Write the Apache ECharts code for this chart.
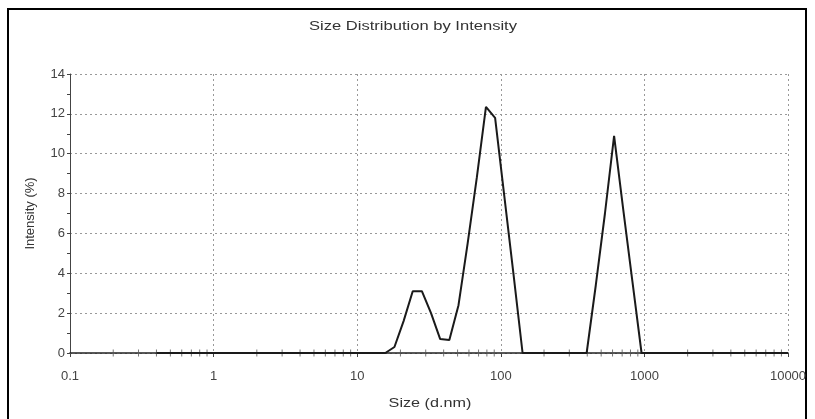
<!DOCTYPE html>
<html>
<head>
<meta charset="utf-8">
<script src="https://cdn.jsdelivr.net/npm/echarts@6/dist/echarts.min.js"></script>
<style>
	html, body { margin: 0; padding: 0; background: #fff; }
	#chart { width: 815px; height: 419px; }
</style>
</head>
<body>
<div id="chart"></div>
<script>
// size classes (d.nm) and intensity (%)
var sizes = [0.4, 0.4632, 0.5365, 0.6213, 0.7195, 0.8332, 0.9649, 1.117, 1.294, 1.499,
	1.736, 2.010, 2.328, 2.696, 3.122, 3.615, 4.187, 4.849, 5.615, 6.503,
	7.531, 8.721, 10.10, 11.70, 13.54, 15.69, 18.17, 21.04, 24.36, 28.21,
	32.67, 37.84, 43.82, 50.75, 58.77, 68.06, 78.82, 91.28, 105.7, 122.4,
	141.8, 164.2, 190.1, 220.2, 255.0, 295.3, 342.0, 396.1, 458.7, 531.2,
	615.1, 712.4, 825.0, 955.4, 1106, 1281, 1484, 1718, 1990, 2305,
	2669, 3091, 3580, 4145, 4801, 5560, 6439, 7456, 8635, 10000];
var intensity = [0, 0, 0, 0, 0, 0, 0, 0, 0, 0,
	0, 0, 0, 0, 0, 0, 0, 0, 0, 0,
	0, 0, 0, 0, 0, 0, 0.3, 1.6, 3.1, 3.1,
	2.0, 0.7, 0.65, 2.4, 5.5, 8.8, 12.35, 11.8, 7.9, 4.0,
	0, 0, 0, 0, 0, 0, 0, 0, 3.4, 7.0,
	10.9, 7.2, 3.6, 0, 0, 0, 0, 0, 0, 0,
	0, 0, 0, 0, 0, 0, 0, 0, 0, 0];
// minor tick positions on the log axis
var minorTicks = [0.2, 0.3, 0.4, 0.5, 0.6, 0.7, 0.8, 0.9,
	2, 3, 4, 5, 6, 7, 8, 9,
	20, 30, 40, 50, 60, 70, 80, 90,
	200, 300, 400, 500, 600, 700, 800, 900,
	2000, 3000, 4000, 5000, 6000, 7000, 8000, 9000];

var chart = echarts.init(document.getElementById('chart'));

var lineData = sizes.map(function(s, i) { return [s, intensity[i]]; });
var tickData = minorTicks.map(function(s) { return [s, 0]; });

var font = 'Liberation Sans';
var option = {
	backgroundColor: '#fff',
	animation: false,
	graphic: [{
		type: 'rect',
		shape: { x: 8, y: 9, width: 798, height: 430 },
		style: { fill: 'none', stroke: '#000', lineWidth: 2 },
		silent: true
	}, {
		// title, stretched wide like the original
		type: 'text',
		x: 413, y: 27,
		scaleX: 1.38,
		style: {
			text: 'Size Distribution by Intensity',
			fontFamily: font, fontSize: 12, fill: '#333',
			align: 'center', verticalAlign: 'middle'
		},
		silent: true
	}, {
		type: 'text',
		x: 430, y: 404,
		scaleX: 1.35,
		style: {
			text: 'Size (d.nm)',
			fontFamily: font, fontSize: 12, fill: '#333',
			align: 'center', verticalAlign: 'middle'
		},
		silent: true
	}],
	grid: { left: 70, right: 27, top: 74, bottom: 66 },
	xAxis: {
		type: 'log',
		logBase: 10,
		min: 0.1,
		max: 10000,
		axisLine: { lineStyle: { color: '#222', width: 1.5 } },
		axisTick: { show: true, length: 4, lineStyle: { color: '#444' } },
		axisLabel: {
			fontFamily: font, fontSize: 13, color: '#444', margin: 17,
			formatter: function(v) { return String(+v.toPrecision(4)); }
		},
		splitLine: { show: true, lineStyle: { color: '#999', type: [2, 3], width: 1 } }
	},
	yAxis: {
		type: 'value',
		min: 0,
		max: 14,
		interval: 2,
		name: 'Intensity (%)',
		nameLocation: 'middle',
		nameGap: 33,
		nameTextStyle: { fontFamily: font, fontSize: 13, color: '#333' },
		axisLine: { show: true, lineStyle: { color: '#444', width: 1 } },
		axisTick: { show: true, length: 3, lineStyle: { color: '#444' } },
		minorTick: { show: true, splitNumber: 2, length: 3, lineStyle: { color: '#444' } },
		axisLabel: { fontFamily: font, fontSize: 13, color: '#444', margin: 5 },
		splitLine: { show: true, lineStyle: { color: '#999', type: [2, 3], width: 1 } }
	},
	series: [{
		type: 'scatter',
		data: tickData,
		symbol: 'rect',
		symbolSize: [1, 7],
		itemStyle: { color: '#555' },
		silent: true,
		z: 1
	}, {
		type: 'line',
		data: lineData,
		showSymbol: false,
		smooth: false,
		lineStyle: { color: '#1a1a1a', width: 2 },
		z: 3
	}]
};

chart.setOption(option);
</script>
</body>
</html>
